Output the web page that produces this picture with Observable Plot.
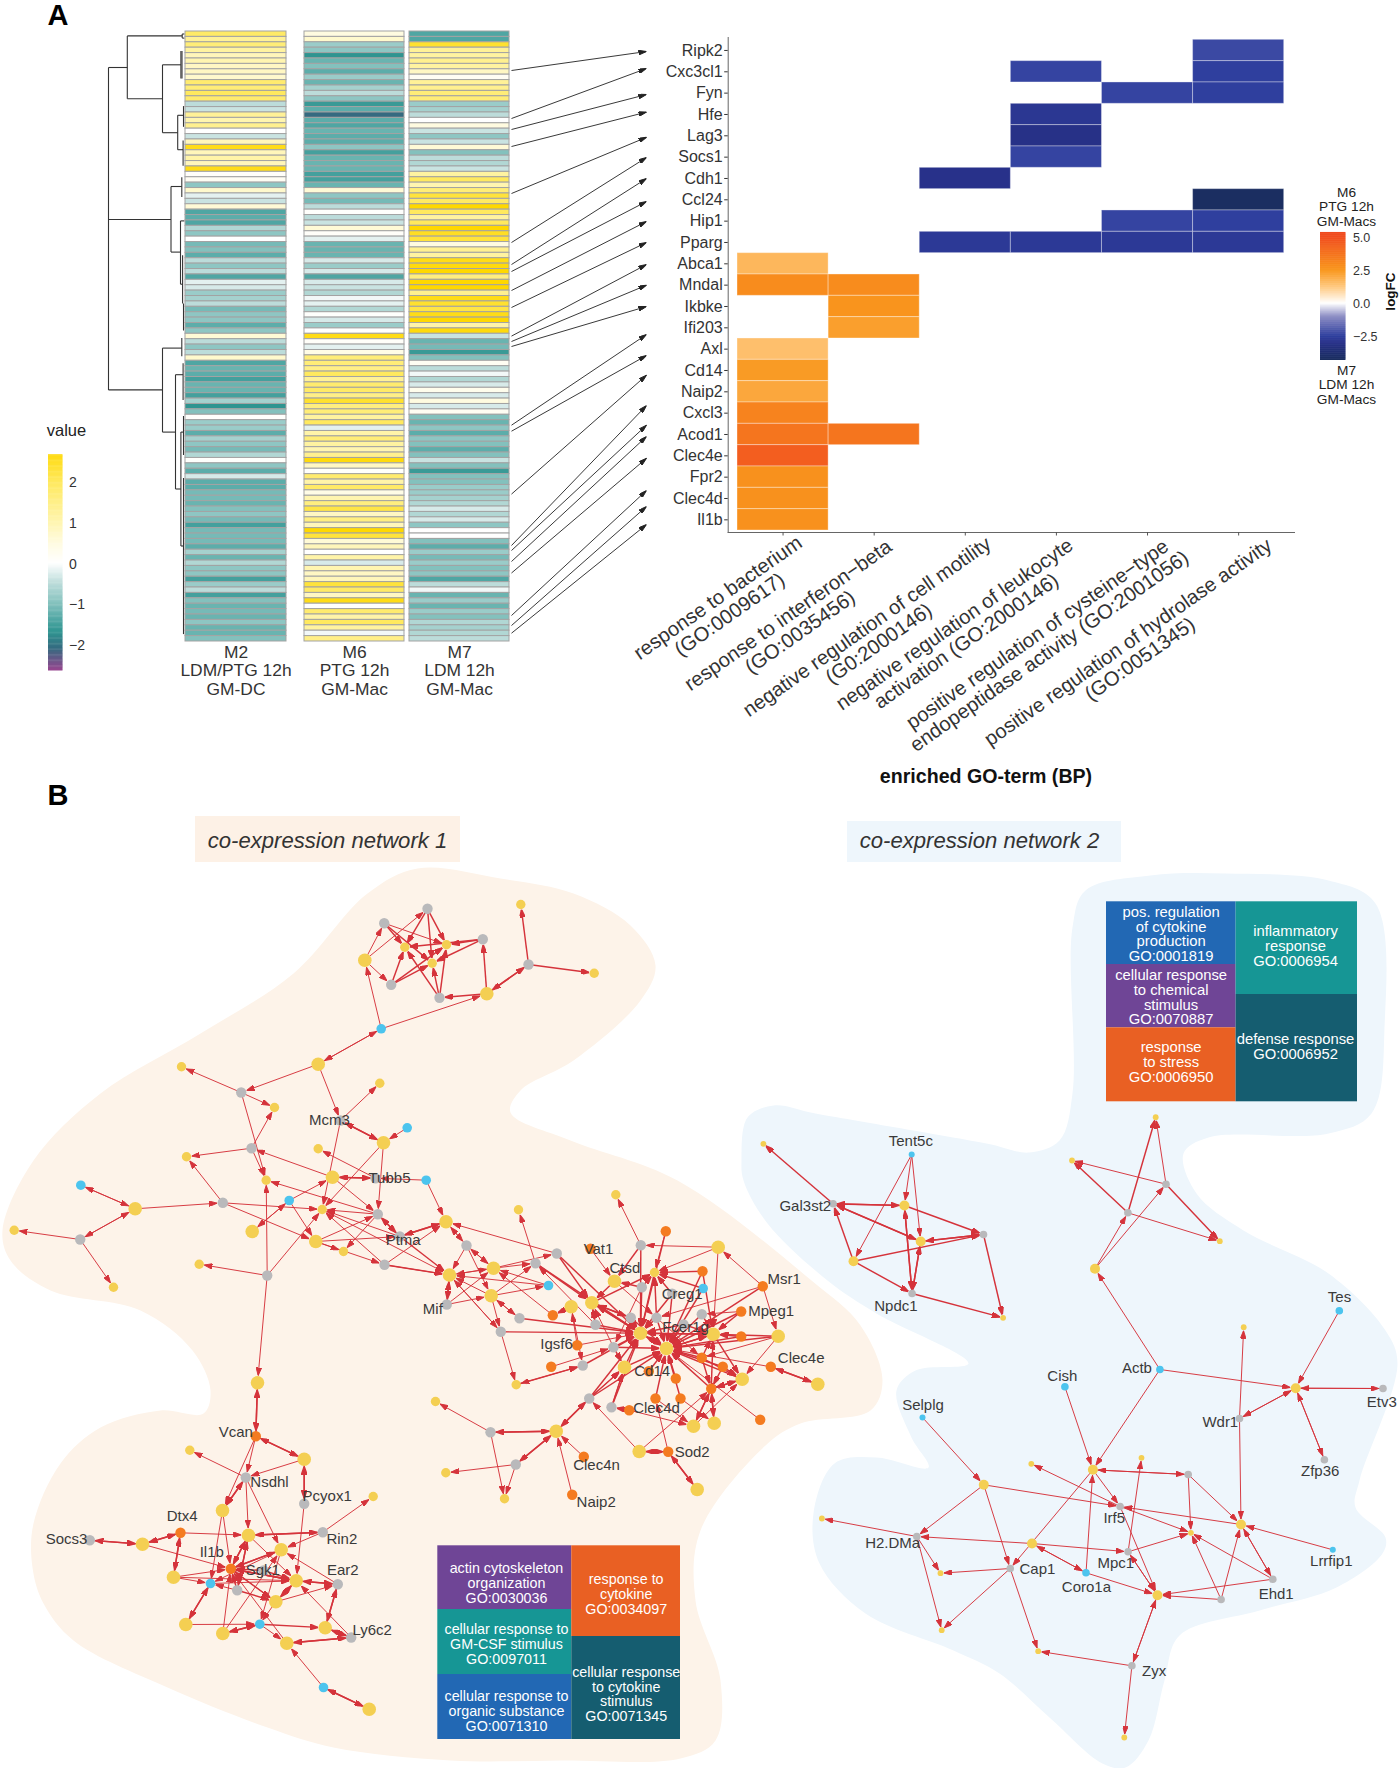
<!DOCTYPE html>
<html><head><meta charset="utf-8">
<script src="https://cdn.jsdelivr.net/npm/d3@7"></script>
<script src="https://cdn.jsdelivr.net/npm/@observablehq/plot@0.6"></script>
<style>html,body{margin:0;padding:0;background:#fff}#root{position:relative;width:1400px;height:1768px;overflow:hidden}</style>
</head><body><div id="root"></div>
<script>
// ---------- Panel A: heatmap values (row by row)
const m2Values=[1.9,1.3,1.7,1.2,.9,1,.8,.8,.7,1.8,1.7,2,1.8,-.5,-.4,1.3,1,1.4,0,-.4,.9,2.6,.9,1.1,.9,2.6,.1,.2,-.9,.7,-.2,-.4,.6,-1.4,-1.3,-1.4,-.6,-.9,0,-1.1,-1,-1.3,-.5,-.9,-.5,-1.4,-.2,-.3,-.8,-.7,-.5,-1.1,-.9,-.9,-1.3,-.9,.6,-.5,-.9,-.5,.7,-1.4,-1.2,-1.3,-1.5,-1.2,-1.2,-1.5,-.7,-1.7,-1,.05,-.8,-.8,-1.3,-.7,-.9,-1.1,-.6,.05,-.9,-1.3,-.3,-1.3,-1.3,-1.1,-1.1,-1.2,-1,-.9,-1.1,-1.5,-1.1,-1.1,-1.1,-1.3,-.7,-1.2,-.6,-.9,-.9,-1.5,-.8,-.5,-1.5,-1,-1.2,-1.1,-1.2,-.9,-1.2,-1.2,-1];
const m6Values=[.5,.7,-.8,-.9,-1.7,-1.2,-1,-1.3,-.8,-1.2,-.7,-.5,-.9,-1.6,-1.3,-2.1,-1.3,-1.4,-1.2,-1.3,-1.3,-.9,-1.5,-1.2,-1.2,-1.2,-1.5,-1.5,-1.2,.6,-.9,-1.1,-.5,.05,-.5,-.4,.6,.1,-.2,-1.2,-1.2,-1.2,-.3,-.8,-.3,-1.4,-.3,-.4,-.6,-.1,-.2,-.6,.05,-.3,-.8,0,2.6,.1,-.2,.4,1.7,1.7,1.5,2,1.3,1.8,1.9,1.5,2.4,1.6,1.7,1.2,2,-.2,1.1,1.7,1.2,1,1.4,2.7,.8,.05,1.8,1.1,1.9,.4,1,1.6,2.2,.8,1.6,.9,2.8,2.3,.6,.9,0,1.1,-.3,1,.8,.9,2.3,1.9,.8,2.6,0,1.8,1.1,2,1.2,-.1,1.5];
const m7Values=[-1.4,-1.4,2.4,1.3,1.2,1.4,1.2,.8,.2,1.3,1.4,1.7,1.7,-.8,-.7,-.5,0,.5,-.4,-.9,-.4,.6,-1,-.5,-.6,-.4,1.2,2,1,1.7,2.3,1.9,2.8,2,1.2,2,2.8,2.5,2.3,.5,1.4,1.2,2.6,2.7,2.8,1.6,2.8,2.8,1.4,2.6,2.4,2.2,2.6,2.8,1.1,2.7,-.4,-1.2,-1.1,-1.6,-1,.2,-.5,-.1,-.6,-.3,.3,-.3,.5,-.3,.2,-1,-1.2,-.9,-1.3,-.9,-1,-1.3,-1,-.4,-1,-1.6,-1,-1,-.8,-.8,-.7,-.6,-.3,-.6,-.3,-.9,0,0,-1,-1.3,-.8,-1.1,-.8,-1,-.9,-1.4,-.5,-.1,-1.2,-.8,-1.2,-.8,-1,-.6,-.7,-.6,-.5];
const heatColumns=["M2\nLDM/PTG 12h\nGM-DC","M6\nPTG 12h\nGM-Mac","M7\nLDM 12h\nGM-Mac"];
const heatDomain=[-2.63,-2.1,-1.7,-1.4,-1,-.5,0,.5,1,2,2.8];
const heatRange=["#96468F","#356A80","#2F9490","#4FA6A3","#83C1BD","#BCDCDA","#FFFFFF","#FFFBE0","#FFF5B0","#FFE95E","#FFD800"];

// dendrogram branches [x1,y1,x2,y2]
const dendro=[[108,67,108,389.4],[108,67,126.8,67],[126.8,35.4,126.8,98.3],[126.8,35.4,181.7,35.4],[181.7,33.5,181.7,37.6],[181.7,33.5,184,33.5],[181.7,37.6,184,37.6],[126.8,98.3,162,98.3],[162,64.3,162,132.2],[162,64.3,180.4,64.3],[180.4,50.5,180.4,78],[181.5,50.5,181.5,78],[162,132.2,177.2,132.2],[177.2,114.8,177.2,149.2],[177.2,114.8,183,114.8],[183,105.6,183,126.3],[177.2,149.2,182.6,149.2],[182.6,140,182.6,165.3],[108,219,170.5,219],[170.5,186,170.5,251.6],[170.5,186,181.3,186],[181.3,176.8,181.3,196.5],[170.5,251.6,180,251.6],[180,220.4,180,283.7],[180,220.4,184,220.4],[180,283.7,182.1,283.7],[182.1,254.8,182.1,303],[183,303,183,330],[108,389.4,162,389.4],[162,347.6,162,431.6],[162,347.6,181.3,347.6],[181.3,337.5,181.3,355.8],[162,431.6,175,431.6],[175,374.2,175,488.5],[175,374.2,182.6,374.2],[182.6,362.7,182.6,399.4],[175,488.5,180.4,488.5],[180.4,431.6,180.4,545.5],[180.4,431.6,183,431.6],[183,415.5,183,454.5],[180.4,545.5,183,545.5],[183,477.5,183,633.6]];

// arrows from heatmap rows to genes: start y, end y
const arrowFromY=[70,118,129,146,193,242,264,271,290,307,335.6,341,346,424.7,430.7,493.6,545,550,561,572.5,615,625,632.7];
const arrowToY=[51,68,94,111.6,136.8,157,178,201,221,242,264,284.7,306,334,355,374.7,405,424.7,436,457.8,490,506,524];

// ---------- GO-term heatmap
const goGenes=["Ripk2","Cxc3cl1","Fyn","Hfe","Lag3","Socs1","Cdh1","Ccl24","Hip1","Pparg","Abca1","Mndal","Ikbke","Ifi203","Axl","Cd14","Naip2","Cxcl3","Acod1","Clec4e","Fpr2","Clec4d","Il1b"];
const goTerms=["response to bacterium\n(GO:0009617)","response to interferon−beta\n(GO:0035456)","negative regulation of cell motility\n(G0:2000146)","negative regulation of leukocyte\nactivation (GO:2000146)","positive regulation of cysteine−type\nendopeptidase activity (GO:2001056)","positive regulation of hydrolase activity\n(GO:0051345)"];
const goCellsRaw=[["Ripk2",5,-2.3],["Cxc3cl1",3,-2.4],["Cxc3cl1",5,-2.5],["Fyn",4,-2.4],["Fyn",5,-2.5],["Hfe",3,-2.8],["Lag3",3,-3.1],["Socs1",3,-2.4],["Cdh1",2,-3],["Ccl24",5,-4.2],["Hip1",4,-2.4],["Hip1",5,-2.5],["Pparg",2,-2.7],["Pparg",3,-2.7],["Pparg",4,-2.7],["Pparg",5,-2.7],["Abca1",0,1.7],["Mndal",0,2.9],["Mndal",1,2.9],["Ikbke",1,2.6],["Ifi203",1,2.3],["Axl",0,1.5],["Cd14",0,2.4],["Naip2",0,2.1],["Cxcl3",0,3.2],["Acod1",0,3.7],["Acod1",1,3.7],["Clec4e",0,4.5],["Fpr2",0,2.7],["Clec4d",0,2.7],["Il1b",0,2.7]];
const fcDomain=[-4.3,-3,-2.5,-1,0,1.25,2.5,5,5.36];
const fcRange=["#1A2E5E","#28318A","#2F3F9E","#8C8DC4","#FFFFFF","#FFC980","#F9971D","#F1501F","#EF4A1F"];

// ---------- Panel B: network nodes [id,x,y,kind]
const net1Nodes=[["n1",383.7,922.7,"G"],["n2",427,908.3,"G"],["n3",482.3,938.7,"G"],["n4",364.3,959.7,"L"],["n5",404.3,946.7,"Y"],["n6",446,944.3,"Y"],["n7",431.7,962.7,"Y"],["n8",390.7,984.3,"G"],["n9",439,997.3,"G"],["n10",486.3,993.3,"L"],["n11",528,964,"G"],["n12",520.3,904,"Y"],["n13",593.7,972.7,"Y"],["n14",380.7,1028.3,"B"],["n15",317.7,1063.7,"L"],
["A",240.7,1092,"G"],["Bb0",181,1066.3,"Y"],["C",274,1107,"Y"],["D",251,1147.7,"G"],["E",186,1156.3,"Y"],["F",265.7,1179.7,"Y"],["G0",222.3,1202.3,"G"],["H",288.7,1200,"B"],["I",134.7,1208.3,"L"],["J",80.3,1184.7,"B"],["K",79.7,1239,"G"],["L0",13.7,1229.7,"Y"],["M",113,1286.7,"Y"],["N",251.7,1231,"L"],["O0",321.7,1209,"Y"],["P",315.3,1241,"L"],["Q",343,1251,"Y"],["R",384,1264.3,"G"],["S",266.7,1275,"G"],["T",198.7,1263.7,"Y"],["U",332,1176.7,"L"],["Mcm3",340,1120,"G"],["V",379.3,1082.7,"Y"],["W",406.7,1127.3,"B"],["X",383,1142.3,"L"],["Y0",317.7,1148.3,"Y"],["Tubb5",375,1177.7,"G"],["Z",425.7,1179.7,"B"],["AA",377.3,1213.7,"G"],["Ptma",399.3,1236,"G"],["AB",445.5,1221.3,"L"],["AC",449,1274.5,"L"],["Mif",446.3,1304,"G"],
["Ba",466,1245,"G"],["Bb",493,1267.7,"L"],["Bc",490.7,1295.3,"L"],["Bd",519,1317.7,"G"],["Be",500.3,1331.3,"G"],["Bf",515.7,1384.3,"Y"],["Bg",518,1209.3,"Y"],["Bh",535,1262.7,"G"],["Bi",556.3,1253,"G"],["Bj",548,1285,"B"],["Bk",552.3,1314.7,"O"],["Bl",570.7,1306.3,"L"],["Bm",591.3,1302.3,"L"],["Vat1",590,1248.3,"O"],["Bn",615.3,1194.3,"Y"],["Bo",640.3,1244.7,"G"],["Bp",665.3,1230.7,"O"],["Bq",717.7,1246.7,"L"],["Ctsd",614,1280.7,"L"],["Br",641.3,1286.7,"G"],["Bs",654,1272,"Y"],["Bt",702,1270.7,"O"],["Bu",702.7,1288,"B"],["Msr1",762.3,1285.7,"O"],["Mpeg1",740.7,1311,"O"],["Creg1",671.7,1293.3,"G"],["Bv",701.3,1313.7,"G"],["Bw",656,1317.3,"G"],["Bx",630.3,1317.3,"G"],["By",595,1324.3,"G"],["Fcer1g",683,1324,"G"],["Bz",640,1332.7,"L"],["Ca",712.7,1333.7,"L"],["Cb",740.7,1336,"O"],["Cc",777.7,1335.7,"L"],["Cdh",666,1348,"L"],["Ce",613,1346.7,"G"],["Igsf6",576.7,1344.7,"O"],["Cf",550.7,1366.3,"O"],["Cg",582.3,1365,"G"],["Ch",624,1366.7,"L"],["Cd14",648.3,1370.7,"O"],["Ci",701.3,1357.3,"O"],["Cj",722.3,1366.3,"O"],["Clec4e",770.3,1366.3,"O"],["Ck",817.3,1383.7,"L"],["Cl",741.7,1378.7,"L"],["Cm",675.3,1378,"O"],["Cn",710.7,1388.3,"O"],["Co",655,1398,"O"],["Cp",680,1398,"O"],["Cq",588.7,1398,"G"],["Cr",611,1406.7,"G"],["Clec4d",628.7,1409.7,"O"],["Cs",693,1425.7,"L"],["Ct",713.7,1422.7,"L"],["Cu",759.7,1419.3,"O"],["Cv",555.7,1430.7,"L"],["Cw",490,1431.7,"G"],["Cx",435,1401,"Y"],["Cy",515.3,1464,"G"],["Cz",445.3,1472.3,"Y"],["Da",504,1498.3,"Y"],["Clec4n",583.3,1456.3,"O"],["Naip2",571.7,1494.3,"O"],["Db",638.7,1451,"L"],["Sod2",667.7,1451.3,"O"],["Dc",696.7,1489,"L"],
["Ga",257,1382.3,"L"],["Vcan",255.3,1435.7,"O"],["Gb",189.3,1449.7,"Y"],["Gc",303.7,1458.7,"L"],["Nsdhl",245.3,1477,"G"],["Pcyox1",303.7,1503.3,"G"],["Gd",372.7,1496,"Y"],["Ge",222,1510,"L"],["Dtx4",180,1532.3,"O"],["Gf",248,1534.7,"L"],["Rin2",322.3,1531.7,"G"],["Gg",280.7,1549.3,"L"],["Socs3",89.3,1539.7,"G"],["Gh",142,1543.7,"L"],["Il1b",230.3,1568.3,"O"],["Gi",173,1576.7,"L"],["Gj",210,1583,"B"],["Gk",236.7,1589.7,"G"],["Sgk1",263,1570,"G"],["Gl",295.7,1580.3,"L"],["Ear2",337.3,1583.7,"G"],["Gm",275.3,1601.3,"L"],["Gn",185.3,1624,"L"],["Go",222.3,1633,"L"],["Gp",259.3,1623.7,"B"],["Gq",324.7,1627.3,"L"],["Ly6c2",350.7,1637,"G"],["Gr",286.3,1642.7,"L"],["Gs",323,1687,"B"],["Gt",368.7,1708.7,"L"]];
const net2Nodes=[["Ha",762.9,1143.3,"s"],["Tent5c",911.2,1154,"t"],["Gal3st2",832.6,1203.3,"g"],["Hb",903.9,1205,"l"],["Hc",920.2,1241,"l"],["Hd",983,1234,"g"],["He",853,1260.7,"l"],["Npdc1",911.6,1293,"g"],["Hf",1002.6,1317.3,"s"],["Hg",1094.5,1268.3,"l"],["Hh",1127.4,1212.3,"g"],["Hi",1165.5,1183.7,"g"],["Hj",1155.2,1116.7,"s"],["Hk",1071.5,1160,"s"],["Hl",1219.3,1240.7,"s"],
["Tes",1338.8,1310.3,"b"],["Ia",1243.2,1326.7,"s"],["Actb",1159.4,1369,"b"],["Ib",1295.2,1387.7,"l"],["Etv3",1382.5,1388,"g"],["Cish",1064.4,1386.3,"b"],["Wdr1",1239,1418,"g"],["Selplg",922,1417,"t"],["Zfp36",1323.9,1459.3,"g"],["Ic",1141,1457.3,"s"],["Id",1030.8,1463.3,"s"],["Ie",1092.4,1469.3,"l"],["If",1187.7,1474,"g"],["Ig",983.3,1484.3,"l"],["Irf5",1119.6,1506,"g"],["Ih",821.4,1518,"s"],["Ii",1240.5,1524,"l"],["Ij",1190.4,1532.3,"s"],["H2",916.3,1536,"g"],["Ik",1031.5,1543,"l"],["Mpc1",1127.6,1551.3,"g"],["Lrrfip1",1332.3,1549.3,"t"],["Il",940,1572.7,"s"],["Cap1",1009.7,1568,"g"],["Coro1a",1085.5,1572.3,"b"],["Ehd1",1272.3,1578.7,"g"],["Im",1157,1594.7,"l"],["In",1220.6,1599,"g"],["Io",941.2,1629.7,"s"],["Ip",1037.7,1650.7,"s"],["Zyx",1131.4,1665.3,"g"],["Iq",1123.8,1737,"s"]];

const thinEdges=("n14>n4 n14>n10 n4>n1 n4>n8 n4>n2 n1>n6 n14<>n15 n15>A A>Bb0 A>C A>F D>C D>E D>F U>D G0>E G0>O0 G0>P I>G0 I<>J I<>K K>L0 K>M S>T S>F S>O0 H<>N H>U H>P n15>Mcm3 Mcm3>V W>X Mcm3>O0 Tubb5>Y0 X>O0 X>AA AA>F AA>O0 U>AA Z>Tubb5 Z>AB P>AA P>Ptma P>Q P>R R>O0 AA>Q Ptma>O0 R>AC R>AB O0>AC "+
"Mif>Bb Mif>Bc Bi>AB Bh>Bg Bk>Bb Bj>Bb Bj>AC Be>Bf Bl>Cg Cg>Bf Cf>Ce Igsf6>Bl Vat1>Ctsd Bo>Bn Bq>Bo Bp>Bs Bq>Bs Bq>Ca Msr1>Bq Msr1>Cc Msr1>Bw Mpeg1>Bv Cc>Ci Cc>Cl Clec4e>Cdh Db>Cq Db>Cn Cw>Cx Cw>Da Cy>Cz Cy>Da Clec4n>Cv Naip2>Cv Clec4d>Cs Cu>Cdh Cs>Cl Sod2>Co Br>Ce Ctsd>Bw Bw>Ci Igsf6>Bz Cr>Ch Ce>Bm By>Bh Cn>Cl Cp>Ct Co>Cs Cq>Ch "+
"Ba<>Bb Ba>Bc AC<>Bb Bb>Bh Bb>Bi Bc>Bh Bc>Bj Bc>AC Bc<>Bd Bc>Be AC<>Be AB<>Ba Ba>AC "+
"S>Ga Vcan>Ge Vcan>Nsdhl Nsdhl>Gb Gc>Nsdhl Nsdhl>Gf Nsdhl>Gg Pcyox1>Gl Rin2>Gd Rin2>Gg Dtx4>Gf Gh>Il1b Ge>Il1b Ge>Gj Gf>Gl Gg>Gp Gg>Gj Gi>Il1b Gi>Gj Gi>Gl Gj>Gl Gk>Gj Ear2>Gg Gm>Ear2 Gm>Gp Go>Il1b Go>Gg Gn>Gp Gp>Gr Ly6c2>Gl Gs>Gr Gr>Il1b Gm>Il1b "+
"Tent5c>He Tent5c>Hb Tent5c>Hc Actb>Hg Hg>Hh Hg>Hi Hi>Hj Hi>Hk Hh>Hl Tes>Ib Actb>Ib Actb>Ie Wdr1>Ia Wdr1>Ii Cish>Ie Selplg>Ig Ie<>If Ie>Irf5 Irf5>Id Ig>Irf5 Ig>H2 Ig>Cap1 If>Ii If>Ij Irf5>Ij Ii>Irf5 Lrrfip1>Ii H2>Ih Ik>H2 Ik>Mpc1 Ie>Cap1 Ik<>Coro1a Coro1a>Ie Coro1a>Im Mpc1>Ij Mpc1>Ic Mpc1<>Im Cap1>Il Cap1>Io Cap1>Ip H2>Il H2>Io Zyx>Ip Zyx<>Im Zyx>Iq Ehd1>Im Ehd1>Ij Ehd1<>Ii In>Im In>Ij In>Ii Irf5>Im Ib<>Etv3 Ib<>Wdr1 Ib<>Zfp36").split(" ");
const boldEdges=("n1>n5 n1>n7 n2>n5 n2>n6 n2>n7 n8>n5 n8>n6 n8>n7 n3>n6 n3>n5 n3>n7 n9>n5 n9>n6 n9>n7 n10>n3 n10>n9 n10<>n11 n11>n12 n11>n13 Mcm3<>X U<>Tubb5 AB<>Ptma Ptma<>AA Ptma>AC R>AC AC<>Mif Bi>Bz Bd>Bz Be>Bz Bm>Bz Bx>Bz Bw>Bz By>Bz Ce>Bz Br>Bz Bo>Bz Bh>Bz Ch>Bz Cg>Bz Cq>Bz Cr>Bz Ca>Bz Fcer1g>Bz Creg1>Bz Bs>Bz Bp>Bz "+
"Bw>Cdh Bx>Cdh Fcer1g>Cdh Creg1>Cdh Bv>Cdh Ca>Cdh Cc>Cdh Mpeg1>Cdh Bu>Cdh Bt>Cdh Cb>Cdh Ci>Cdh Cj>Cdh Cl>Cdh Cm>Cdh Cn>Cdh Cp>Cdh Co>Cdh Ce>Cdh Ch>Cdh Cd14>Cdh Msr1>Cdh Cq>Cdh Bz>Cdh Cdh>Bz Cb>Ca Cc>Ca Bt>Ca Ci>Ca Cn>Ca Mpeg1>Ca Bv>Ca Fcer1g>Ca Bz>Ca Cdh>Ca Bm<>By Bx>Bm Bi>Bm Ctsd>Bm Bz>Bm Bh>Bm Bt>Bs Bu>Bs Creg1>Bs Br>Bs Bw>Bs Bm>Bs Br>Ctsd Bo>Ctsd Bm>Bx Cq>Ch Cr>Ch Ce>Ch Ci>Cn Cj>Cn Ct<>Cn Cs<>Cn Cl<>Cn Ci>Cl Ca>Cl Cj>Cl Clec4e<>Ck Sod2<>Db Sod2<>Dc Cv<>Cq Cv<>Cw Cv<>Cy Clec4d>Cr Bl>Bk Bf>Cg "+
"Ga<>Vcan Vcan<>Gc Nsdhl<>Ge Gc<>Pcyox1 Rin2<>Gf Dtx4<>Gh Dtx4<>Gi Socs3<>Gh Gf<>Il1b Gf<>Gk Gg<>Il1b Gj<>Gn Gl<>Il1b Gl<>Ear2 Gl<>Gm Ear2<>Gq Go<>Gp Gp>Gq Gq<>Ly6c2 Ly6c2<>Gr Gs<>Gt Sgk1>Gl Il1b>Gl Gk>Gm Il1b>Gm Sgk1>Il1b Gk>Il1b "+
"Gal3st2>Ha Gal3st2<>Hb Gal3st2<>Hc Hb>Hd Hb<>Npdc1 Hc<>Hd Hc<>Npdc1 He>Gal3st2 He>Hd He>Npdc1 Npdc1>Hf Hd>Hf Hh>Hj Hh>Hk Hi>Hl").split(" ");
const nodeLabels=[["Mcm3",329,1120],["Tubb5",389,1177.7],["Ptma",402.7,1240],["Mif",432.3,1308.3],["Vat1",598,1249],["Ctsd",624.3,1267.7],["Msr1",783.7,1279],["Creg1",681.7,1293.3],["Mpeg1",770.7,1310.7],["Fcer1g",685,1327],["Igsf6",556,1343.7],["Clec4e",800.7,1357.7],["Cd14",651.7,1370.7],["Clec4d",656,1407.3],["Clec4n",596,1465],["Sod2",691.7,1451.7],["Naip2",595.7,1502],["Vcan",235.3,1431.7],["Nsdhl",269,1482],["Pcyox1",326.7,1496],["Dtx4",181.7,1516],["Rin2",341.3,1538.3],["Socs3",66,1538.3],["Il1b",211.3,1551.7],["Sgk1",262.3,1570],["Ear2",342.3,1570],["Ly6c2",371.7,1630],["Tent5c",910.3,1140.7],["Gal3st2",804.8,1205.7],["Npdc1",895.4,1305.3],["Tes",1339,1296.7],["Actb",1136.4,1368],["Cish",1061.8,1375.3],["Selplg",922.5,1404.3],["Wdr1",1219.8,1421.3],["Etv3",1381.3,1401.7],["Zfp36",1319.7,1470.7],["Irf5",1113.8,1518],["H2.DMa",892.2,1543],["Lrrfip1",1330.8,1560.3],["Cap1",1036.9,1568.7],["Mpc1",1115.3,1563],["Coro1a",1085.9,1586.7],["Ehd1",1275.7,1594],["Zyx",1153.6,1670.3]];
const blob1=[[417,868],[500,878],[573,893],[630,925],[655,965],[640,1000],[573,1060],[520,1090],[510,1112],[570,1140],[677,1180],[811,1280],[860,1325],[882,1380],[870,1410],[800,1423],[765,1445],[700,1530],[695,1600],[720,1680],[715,1740],[680,1758],[560,1760],[450,1760],[333,1747],[267,1727],[167,1687],[73,1640],[43,1603],[32,1567],[33,1523],[60,1463],[100,1427],[160,1410],[203,1413],[210,1390],[192,1350],[140,1310],[50,1290],[10,1260],[2,1230],[33,1160],[100,1093],[200,1033],[293,973],[367,893]];
const blob2=[[1225,873],[1328,880],[1375,903],[1384,1027],[1371,1113],[1328,1133],[1208,1137],[1183,1153],[1196,1193],[1243,1230],[1328,1273],[1385,1330],[1397,1363],[1359,1480],[1355,1507],[1385,1537],[1382,1553],[1336,1587],[1259,1610],[1179,1635],[1164,1680],[1148,1740],[1125,1767],[1102,1763],[1049,1717],[999,1673],[953,1650],[865,1613],[819,1563],[813,1513],[834,1463],[876,1457],[928,1467],[911,1437],[896,1390],[915,1370],[968,1363],[876,1313],[827,1280],[767,1223],[743,1180],[741,1160],[747,1117],[773,1105],[815,1113],[986,1143],[1029,1152],[1059,1140],[1072,1093],[1072,927],[1085,890],[1150,875]];
// treemaps: [x1,y1,x2,y2,colour], text: [x,y,label]
const tiles=[[437.3,1545.3,571.3,1609,"#6F4596"],[437.3,1609,571.3,1674,"#169695"],[437.3,1674,571.3,1739,"#2268B4"],[571.3,1545.3,680,1636,"#E96023"],[571.3,1636,680,1739,"#155D70"],[1106,901.3,1235.6,964,"#2268B4"],[1106,964,1235.6,1027.3,"#6F4596"],[1106,1027.3,1235.6,1101.3,"#E96023"],[1235.6,901.3,1357,994,"#169695"],[1235.6,994,1357,1101.3,"#155D70"]];
const tileText1=[[506,1582.7,"actin cytoskeleton\norganization\nGO:0030036"],[506,1643.7,"cellular response to\nGM-CSF stimulus\nGO:0097011"],[506,1711,"cellular response to\norganic substance\nGO:0071310"],[625.7,1593.7,"response to\ncytokine\nGO:0034097"],[625.7,1693.7,"cellular response\nto cytokine\nstimulus\nGO:0071345"]];
const tileText2=[[1170.6,933.7,"pos. regulation\nof cytokine\nproduction\nGO:0001819"],[1170.6,997,"cellular response\nto chemical\nstimulus\nGO:0070887"],[1170.6,1062,"response\nto stress\nGO:0006950"],[1295,946,"inflammatory\nresponse\nGO:0006954"],[1295,1046,"defense response\nGO:0006952"]];
const titleBoxes=[[195,816,460,862,"#FDF1E6"],[847,821,1121,862,"#EEF6FC"]];
const titles=[[327,840,"co-expression network 1"],[979,840,"co-expression network 2"]];

// ---------- rendering helpers
const FONT="Liberation Sans";
const root=document.getElementById("root");
const place=(left,top,opts)=>root.append(Plot.plot({...opts,style:{position:"absolute",left:left+"px",top:top+"px",overflow:"visible",fontFamily:FONT,background:"transparent",maxWidth:"none"}}));
const triangle=(len,half)=>color=>{
  const m=document.createElementNS("http://www.w3.org/2000/svg","marker");
  m.setAttribute("viewBox",`0 ${-half} ${len} ${2*half}`);
  m.setAttribute("markerWidth",len);m.setAttribute("markerHeight",2*half);
  m.setAttribute("refX",len);m.setAttribute("refY",0);
  m.setAttribute("orient","auto");m.setAttribute("markerUnits","userSpaceOnUse");
  const p=document.createElementNS("http://www.w3.org/2000/svg","path");
  p.setAttribute("d",`M0,${-half}L${len},0L0,${half}Z`);p.setAttribute("fill",color);
  m.appendChild(p);return m;
};
const kinds={L:[6.8,"#F4CF52"],Y:[4.7,"#F4CF52"],G:[5.2,"#B9B9BB"],B:[4.8,"#4CC4EE"],O:[5.2,"#F47B20"],l:[5,"#F4CF52"],s:[2.9,"#F4CF52"],g:[3.8,"#B9B9BB"],b:[3.8,"#4CC4EE"],t:[3,"#4CC4EE"]};
const allNodes=[...net1Nodes,...net2Nodes];
const nodeById=new Map(allNodes.map(n=>[n[0],n]));
function parseEdges(list){
  const out=[];
  for(const s of list){
    const both=s.includes("<>");
    const [a,b]=s.split(both?"<>":">");
    out.push(link(a,b)); if(both) out.push(link(b,a));
  }
  return out.filter(Boolean);
}
function link(a,b){
  const A=nodeById.get(a),B=nodeById.get(b);
  if(!A||!B){console.error("missing node",a,b);return null;}
  const dx=B[1]-A[1],dy=B[2]-A[2],d=Math.hypot(dx,dy)||1,r=kinds[B[3]][0]+.5;
  return {x1:A[1],y1:A[2],x2:B[1]-dx/d*r,y2:B[2]-dy/d*r};
}
const edgeColor="#D5333B";
const px=d=>d[0],py=d=>d[1];

// ---------- base layer (networks, dendrogram, arrows, free texts)
place(0,0,{width:1400,height:1768,margin:0,
  x:{domain:[0,1400],range:[0,1400],axis:null},
  y:{domain:[0,1768],range:[0,1768],axis:null},
  marks:[
    Plot.line(blob1,{x:px,y:py,fill:"#FDF3E9",stroke:"none",curve:"catmull-rom-closed"}),
    Plot.line(blob2,{x:px,y:py,fill:"#EEF6FC",stroke:"none",curve:"catmull-rom-closed"}),
    Plot.rect(titleBoxes,{x1:d=>d[0],y1:d=>d[1],x2:d=>d[2],y2:d=>d[3],fill:d=>d[4]}),
    Plot.text(titles,{x:px,y:py,text:d=>d[2],fontSize:22.1,fontStyle:"italic",fill:"#333"}),
    Plot.link(dendro,{x1:d=>d[0],y1:d=>d[1],x2:d=>d[2],y2:d=>d[3],stroke:"#333",strokeWidth:1.1}),
    Plot.link(arrowFromY.map((y,i)=>({y1:y,y2:arrowToY[i]})),{x1:()=>511,x2:()=>646,y1:"y1",y2:"y2",stroke:"#222",strokeWidth:.9,markerEnd:triangle(8,2.4)}),
    Plot.link(parseEdges(thinEdges),{x1:"x1",y1:"y1",x2:"x2",y2:"y2",stroke:edgeColor,strokeWidth:.95,markerEnd:triangle(8,2.8)}),
    Plot.link(parseEdges(boldEdges),{x1:"x1",y1:"y1",x2:"x2",y2:"y2",stroke:edgeColor,strokeWidth:1.45,markerEnd:triangle(8,2.8)}),
    ...Object.entries(kinds).map(([k,[r,c]])=>Plot.dot(allNodes.filter(n=>n[3]===k),{x:d=>d[1],y:d=>d[2],r,fill:c,stroke:"none"})),
    Plot.text(nodeLabels,{x:d=>d[1],y:d=>d[2],text:d=>d[0],fontSize:15,fill:"#3A3A3A"}),
    Plot.rect(tiles,{x1:d=>d[0],y1:d=>d[1],x2:d=>d[2],y2:d=>d[3],fill:d=>d[4]}),
    Plot.text(tileText1,{x:px,y:py,text:d=>d[2],fontSize:14.3,lineHeight:1.03,fill:"#fff"}),
    Plot.text(tileText2,{x:px,y:py,text:d=>d[2],fontSize:14.8,lineHeight:1,fill:"#fff"}),
    Plot.text([[57.5,15,"A"],[57.5,795,"B"]],{x:px,y:py,text:d=>d[2],fontSize:29,fontWeight:"bold",fill:"#000"}),
    Plot.text([[66,430,"value"]],{x:px,y:py,text:d=>d[2],fontSize:16.5,fill:"#222"}),
    Plot.text([[1346,206,"M6\nPTG 12h\nGM-Macs"],[1346,384,"M7\nLDM 12h\nGM-Macs"]],{x:px,y:py,text:d=>d[2],fontSize:13.7,lineHeight:1.06,fill:"#222"}),
    Plot.text([[1390,291,"logFC"]],{x:px,y:py,text:d=>d[2],fontSize:13.5,fontWeight:"bold",rotate:-90,fill:"#111"}),
    Plot.text([[985.5,776,"enriched GO-term (BP)"]],{x:px,y:py,text:d=>d[2],fontSize:19.6,fontWeight:"bold",fill:"#111"})
  ]});

// ---------- heatmap columns (one band-scale plot per module)
const heatColor={type:"linear",domain:heatDomain,range:heatRange};
const heatPlot=(left,width,label,values)=>place(left,31,{
  width,height:610+68,marginLeft:0,marginRight:0,marginTop:0,marginBottom:68,
  x:{type:"band",domain:[label],padding:0,round:false},
  y:{type:"band",domain:d3.range(values.length),padding:0,axis:null,round:false},
  color:heatColor,
  marks:[
    Plot.cell(values.map((v,i)=>({row:i,value:v})),{x:()=>label,y:"row",fill:"value",stroke:"#A3A3A3",strokeWidth:1}),
    Plot.axisX({anchor:"bottom",tickSize:0,tickPadding:3,fontSize:17.4,lineHeight:1.07,label:null,color:"#333",lineAnchor:"top"})
  ]});
heatPlot(185,101,heatColumns[0],m2Values);
heatPlot(304,100,heatColumns[1],m6Values);
heatPlot(409,100,heatColumns[2],m7Values);

// value legend
place(48,454.5,{width:80,height:215.5,margin:0,marginRight:65.5,
  x:{domain:[0,1],axis:null},
  y:{domain:[-2.63,2.67],range:[215.5,0]},
  color:heatColor,
  marks:[
    Plot.rect(d3.range(-2.63,2.67,.03),{x1:()=>0,x2:()=>1,y1:d=>d,y2:d=>d+.04,fill:d=>d}),
    Plot.axisY({anchor:"right",ticks:[-2,-1,0,1,2],tickSize:0,tickPadding:6,fontSize:14,label:null,color:"#333",tickFormat:d3.format("d")})
  ]});

// ---------- GO-term heatmap
const goCells=goCellsRaw.map(([gene,t,logFC])=>({gene,term:goTerms[t],logFC}));
const fcColor={type:"linear",domain:fcDomain,range:fcRange};
const labelOffsets=[[-49.6,87.5],[-70.4,105],[-82.7,116.5],[-86.4,114],[-94.6,124],[-95,132]];
place(640,0,{width:654,height:800,marginLeft:87.7,marginRight:0,marginTop:37,marginBottom:268,
  x:{type:"band",domain:goTerms,padding:0,range:[97,643.7],axis:null,round:false},
  y:{type:"band",domain:goGenes,padding:0,range:[39.3,530],axis:null,round:false},
  color:fcColor,
  marks:[
    Plot.cell(goCells,{x:"term",y:"gene",fill:"logFC",stroke:"#fff",strokeOpacity:.35,strokeWidth:1}),
    Plot.frame({anchor:"left",stroke:"#666"}),
    Plot.frame({anchor:"bottom",stroke:"#666"}),
    Plot.axisY({anchor:"left",tickSize:3.5,tickPadding:2,fontSize:16,label:null,color:"#333"}),
    Plot.axisX({anchor:"bottom",tickSize:3.5,tickFormat:()=>"",label:null,color:"#555"}),
    ...goTerms.map((t,i)=>Plot.text([t],{x:d=>d,frameAnchor:"bottom",text:d=>d,rotate:-35,fontSize:20.2,lineHeight:1.02,dx:labelOffsets[i][0],dy:labelOffsets[i][1],fill:"#333"}))
  ]});

// logFC legend
place(1319.6,233,{width:75,height:127,margin:0,marginRight:49.6,
  x:{domain:[0,1],axis:null},
  y:{domain:[-4.3,5.36],range:[127,0]},
  color:fcColor,
  marks:[
    Plot.rect(d3.range(-4.3,5.36,.05),{x1:()=>0,x2:()=>1,y1:d=>d,y2:d=>d+.09,fill:d=>d}),
    Plot.axisY({anchor:"right",ticks:[-2.5,0,2.5,5],tickSize:0,tickPadding:7,fontSize:12.5,label:null,color:"#333",tickFormat:d3.format(".1f")})
  ]});
</script></body></html>
